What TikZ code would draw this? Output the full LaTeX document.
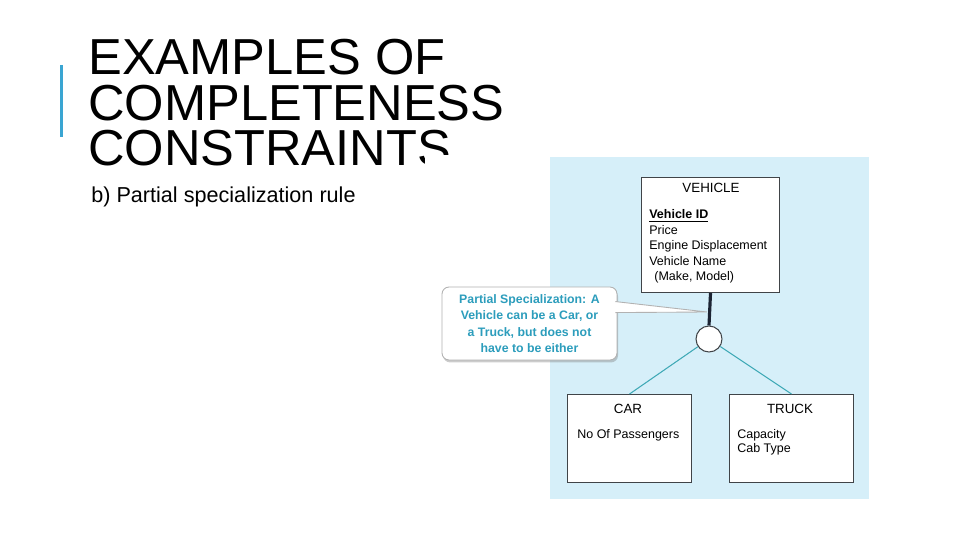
\documentclass[tikz,border=0pt]{standalone}
\usepackage{fontspec}
\setmainfont{Liberation Sans}
\usetikzlibrary{positioning,calc,shadows}
\definecolor{slideaccent}{HTML}{3AA5D2}
\definecolor{panelblue}{HTML}{D6EFF9}
\definecolor{noteteal}{HTML}{2C9DBC}
\definecolor{linkteal}{HTML}{3FA9B6}
\definecolor{entityedge}{HTML}{404448}
\definecolor{supnavy}{HTML}{1C2433}

\begin{document}
\begin{tikzpicture}[
  x=0.02cm, y=-0.02cm,
  titletext/.style={anchor=north west, inner sep=0pt, align=left,
    font=\fontsize{28.8}{26.1}\selectfont},
  entitybox/.style={
    rectangle, draw=entityedge, line width=0.6pt, fill=white,
    minimum width=2.48cm, minimum height=1.76cm, inner sep=0pt
  },
  entityname/.style={anchor=center, inner sep=0pt, font=\fontsize{7.6}{9}\selectfont},
  attrlist/.style={anchor=north west, inner sep=0pt, align=left,
    font=\fontsize{7.1}{8.9}\selectfont},
  notebox/.style={
    rectangle, rounded corners=4pt, draw=gray!60, line width=0.5pt, fill=white,
    minimum width=3.5cm, minimum height=1.46cm, inner sep=0pt, align=center,
    text=noteteal, font=\fontsize{7}{9.35}\selectfont\bfseries,
    drop shadow={opacity=0.4, shadow xshift=0.6pt, shadow yshift=-1.4pt}
  },
  subtype/.style={circle, draw=entityedge, fill=white, line width=0.6pt,
    minimum size=0.52cm, inner sep=0pt},
  linkline/.style={draw=linkteal, line width=0.6pt}
]
\useasboundingbox (0,0) rectangle (960,540);
\fill[white] (0,0) rectangle (960,540);

\fill[slideaccent] (59.5,65) rectangle (62.5,137);
\begin{scope}
  \clip (0,0) -- (960,0) -- (960,155) -- (424,155) -- (424,540) -- (0,540) -- cycle;
  \node[titletext] (title) at (88,38.5) {EXAMPLES OF\\COMPLETENESS\\CONSTRAINTS};
\end{scope}
\node[anchor=base west, inner sep=0pt, font=\fontsize{12.3}{14}\selectfont]
  (subtitle) at (91,203) {b) Partial specialization rule};

\fill[panelblue] (550,157) rectangle (869,499);

\node[entitybox, minimum width=2.76cm, minimum height=2.3cm, anchor=north west]
  (veh) at (641,177) {};
\node[entityname] (vehname) at (711,188) {VEHICLE};
\node[attrlist] (vehattr) at (649,209) {\underline{\textbf{Vehicle ID}}\\Price\\
  Engine Displacement\\Vehicle Name\\\hspace*{0.4em}(Make, Model)};

\node[entitybox, anchor=north west] (car) at (567,394) {};
\node[entitybox, right=0.74cm of car] (truck) {};
\node[entityname] (carname) at (628,409) {CAR};
\node[entityname] (truckname) at (790,409) {TRUCK};
\node[attrlist] (carattr) at (577,429) {No Of Passengers};
\node[attrlist, font=\fontsize{7.1}{8.1}\selectfont] (truckattr) at (737,429)
  {Capacity\\Cab Type};

\node[subtype] (subc) at (709,339) {};

\node[notebox] (note) at (529.5,323.5) {Partial Specialization: A\\
  Vehicle can be a Car, or\\a Truck, but does not\\have to be either};
\coordinate (notetip) at (707,312);
\filldraw[fill=white, draw=gray!60, line width=0.5pt]
  ($(note.north east)+(-2,15)$) -- (notetip) -- ($(note.north east)+(-2,26)$);

\draw[supnavy, line width=1.8pt] (veh.south) -- (subc.north);
\draw[linkline] (subc) -- (car.north);
\draw[linkline] (subc) -- (truck.north);

\end{tikzpicture}
\end{document}
